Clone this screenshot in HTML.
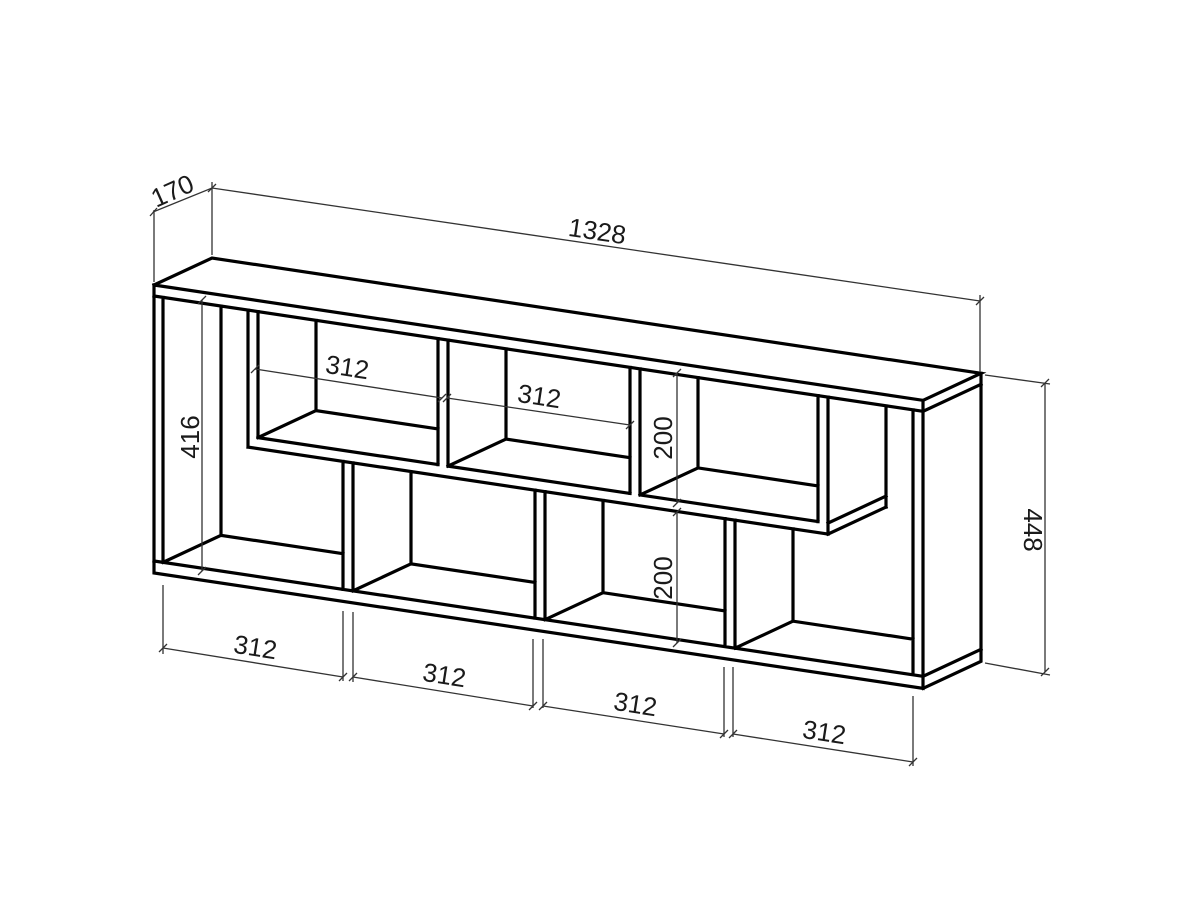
<!DOCTYPE html>
<html><head><meta charset="utf-8"><style>
html,body{margin:0;padding:0;background:#fff;}
svg{display:block}
text{font-family:"Liberation Sans Narrow","Liberation Sans",sans-serif;font-size:26px;fill:#1a1a1a;}
</style></head><body>
<svg width="1200" height="900" viewBox="0 0 1200 900" xmlns="http://www.w3.org/2000/svg">
<rect width="1200" height="900" fill="#fff"/>
<g transform="matrix(1,0.15,0,1,0,261.9)" stroke="#000" stroke-width="3.2" fill="none" stroke-linejoin="miter" stroke-linecap="square">
  <rect x="154" y="0" width="769" height="288" vector-effect="non-scaling-stroke"/>
  <polyline points="154,0 212,-35.7 981,-35.7 923,0" vector-effect="non-scaling-stroke"/>
  <polyline points="981,-35.7 981,252.3 923,288" vector-effect="non-scaling-stroke"/>
  <path vector-effect="non-scaling-stroke" d="
    M923,11 L981,-24.7 M923,276 L981,240.3
    M154,11 L923,11 M154,276 L923,276
    M163,11 L163,276 M913,11 L913,276
    M258,137 L438,137 M448,137 L630,137 M640,137 L818,137
    M248,148 L828,148
    M248,11 L248,148 M258,11 L258,137
    M438,11 L438,137 M448,11 L448,137
    M630,11 L630,137 M640,11 L640,137
    M818,11 L818,137 M828,11 L828,148
    M828,137 L886,101.3 M828,148 L886,112.3 M886,11 L886,112.3
    M343,148 L343,276 M353,148 L353,276
    M535,148 L535,276 M545,148 L545,276
    M725,148 L725,276 M735,148 L735,276
    M316,11 L316,101.3 L438,101.3 M258,137 L316,101.3
    M506,11 L506,101.3 L630,101.3 M448,137 L506,101.3
    M698,11 L698,101.3 L818,101.3 M640,137 L698,101.3
    M221,11 L221,240.3 L343,240.3 M163,276 L221,240.3
    M411,148 L411,240.3 L535,240.3 M353,276 L411,240.3
    M603,148 L603,240.3 L725,240.3 M545,276 L603,240.3
    M793,148 L793,240.3 L913,240.3 M735,276 L793,240.3
  "/>
</g>
<g stroke="#333" stroke-width="1.3" fill="none">
  <path d="M154,282 L154,210 M212,255 L212,182 M153,212 L212,188 L980,301 M980,372 L980,295"/>
  <path d="M150,216 L157,208 M208,192 L216,184 M976,305 L984,297"/>
  <path d="M985,375 L1050,384 M985,663 L1050,675 M1045,383 L1045,672"/>
  <path d="M1041,387 L1049,379 M1041,676 L1049,668"/>
  <path d="M202,300 L202,571 M198,304 L206,296 M198,575 L206,567"/>
  <path d="M255,369 L442,398 M447,398 L630,425"/>
  <path d="M251,373 L259,365 M438,402 L446,394 M443,402 L451,394 M626,429 L634,421"/>
  <path d="M677,373 L677,503 M677,512 L677,643"/>
  <path d="M673,377 L681,369 M673,507 L681,499 M673,516 L681,508 M673,647 L681,639"/>
  <path d="M163,585 L163,654 M343,611 L343,681 M353,612 L353,682 M533,639 L533,708 M543,639 L543,708 M724,667 L724,737 M733,667 L733,737 M913,696 L913,766"/>
  <path d="M163,648 L343,677 M353,677 L533,706 M543,706 L724,734 M733,734 L913,762"/>
  <path d="M159,652 L167,644 M339,681 L347,673 M349,681 L357,673 M529,710 L537,702 M539,710 L547,702 M720,738 L728,730 M729,738 L737,730 M909,766 L917,758"/>
</g>
<g>
  <text transform="translate(176,199) rotate(-24)" text-anchor="middle">170</text>
  <text transform="translate(596,240) rotate(8.4)" text-anchor="middle">1328</text>
  <text transform="translate(1024,530) rotate(90)" text-anchor="middle">448</text>
  <text transform="translate(199,437) rotate(-90)" text-anchor="middle">416</text>
  <text transform="translate(346,376) rotate(8.6)" text-anchor="middle">312</text>
  <text transform="translate(538,405) rotate(8.6)" text-anchor="middle">312</text>
  <text transform="translate(672,438) rotate(-90)" text-anchor="middle">200</text>
  <text transform="translate(672,578) rotate(-90)" text-anchor="middle">200</text>
  <text transform="translate(254,656) rotate(8.8)" text-anchor="middle">312</text>
  <text transform="translate(443,684) rotate(8.8)" text-anchor="middle">312</text>
  <text transform="translate(634,713) rotate(8.8)" text-anchor="middle">312</text>
  <text transform="translate(823,741) rotate(8.6)" text-anchor="middle">312</text>
</g>
</svg>
</body></html>
